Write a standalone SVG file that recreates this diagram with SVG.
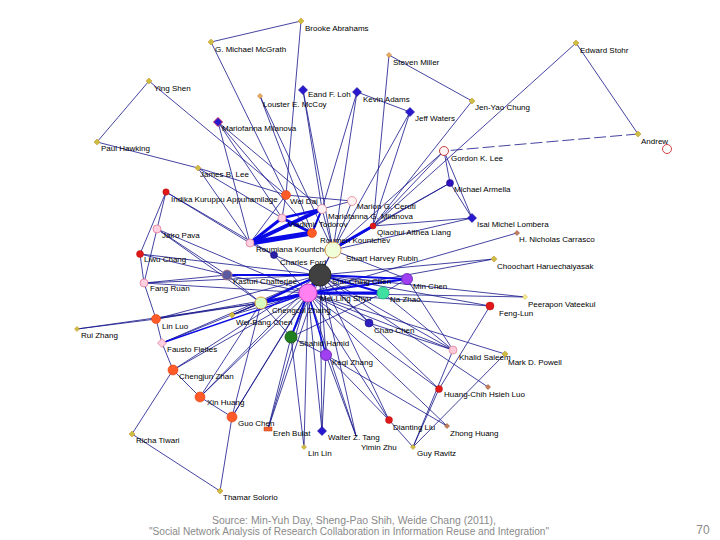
<svg xmlns="http://www.w3.org/2000/svg" xmlns:xlink="http://www.w3.org/1999/xlink" width="720" height="540" viewBox="0 0 720 540">
<style>
.e{stroke:#14148a;stroke-width:.8;fill:none}
.t{stroke:#0a0ae6;fill:none;stroke-linecap:round}
.lb{font-family:"Liberation Sans",Arial,sans-serif;font-size:8px;fill:#000}
.yd{fill:#c8c040;stroke:#d89030;stroke-width:.6}
.od{fill:#e8b060;stroke:#c07020;stroke-width:.6}
.brd{fill:#c08060;stroke:#a05030;stroke-width:.6}
.bd{fill:#2818d0;stroke:#1a0c90;stroke-width:.6}
.rc{fill:#e01818;stroke:#b01010;stroke-width:.5}
.oc{fill:#ff5a28;stroke:#e04010;stroke-width:.6}
.pc{fill:#ffd0e0;stroke:#e07090;stroke-width:.7}
.ft{font-family:"Liberation Sans",Arial,sans-serif;font-size:10px;fill:#8a8a8a}
</style>
<defs>
<path id="dS" d="M0,-2.5L2.5,0L0,2.5L-2.5,0Z"/>
<path id="dM" d="M0,-3L3,0L0,3L-3,0Z"/>
<path id="dL" d="M0,-4.5L4.5,0L0,4.5L-4.5,0Z"/>
</defs>
<rect width="720" height="540" fill="#fff"/>
<g id="edges">
<line class="e" x1="301" y1="21" x2="211" y2="42"/>
<line class="e" x1="301" y1="21" x2="286" y2="195"/>
<line class="e" x1="211" y1="42" x2="286" y2="195"/>
<line class="e" x1="389" y1="55" x2="472" y2="101"/>
<line class="e" x1="389" y1="55" x2="373" y2="226"/>
<line class="e" x1="576" y1="43" x2="638" y2="134"/>
<line class="e" x1="576" y1="43" x2="373" y2="226"/>
<line class="e" x1="472" y1="101" x2="373" y2="226"/>
<line class="e" x1="638" y1="134" x2="444" y2="151" stroke-width="1.3" stroke-dasharray="12,4"/>
<line class="e" x1="444" y1="151" x2="450" y2="183"/>
<line class="e" x1="444" y1="151" x2="472" y2="218"/>
<line class="e" x1="444" y1="151" x2="373" y2="226"/>
<line class="e" x1="444" y1="151" x2="333" y2="250"/>
<line class="e" x1="410" y1="112" x2="357" y2="92"/>
<line class="e" x1="410" y1="112" x2="333" y2="250"/>
<line class="e" x1="410" y1="112" x2="373" y2="226"/>
<line class="e" x1="357" y1="92" x2="333" y2="250"/>
<line class="e" x1="357" y1="92" x2="322" y2="209"/>
<line class="e" x1="303" y1="90" x2="333" y2="250"/>
<line class="e" x1="303" y1="90" x2="322" y2="209"/>
<line class="e" x1="260" y1="96" x2="333" y2="250"/>
<line class="e" x1="260" y1="96" x2="312" y2="233"/>
<line class="e" x1="149" y1="81" x2="97" y2="142"/>
<line class="e" x1="149" y1="81" x2="286" y2="195"/>
<line class="e" x1="97" y1="142" x2="198" y2="168"/>
<line class="e" x1="218" y1="122" x2="282" y2="218"/>
<line class="e" x1="218" y1="122" x2="312" y2="233"/>
<line class="e" x1="218" y1="122" x2="322" y2="209"/>
<line class="e" x1="218" y1="122" x2="250" y2="243"/>
<line class="e" x1="198" y1="168" x2="286" y2="195"/>
<line class="e" x1="198" y1="168" x2="250" y2="243"/>
<line class="e" x1="198" y1="168" x2="282" y2="218"/>
<line class="e" x1="450" y1="183" x2="472" y2="218"/>
<line class="e" x1="450" y1="183" x2="373" y2="226"/>
<line class="e" x1="450" y1="183" x2="333" y2="250"/>
<line class="e" x1="472" y1="218" x2="373" y2="226"/>
<line class="e" x1="472" y1="218" x2="333" y2="250"/>
<line class="e" x1="517" y1="233" x2="308" y2="293"/>
<line class="e" x1="494" y1="259" x2="308" y2="293"/>
<line class="e" x1="494" y1="259" x2="320" y2="275"/>
<line class="e" x1="525" y1="297" x2="320" y2="275"/>
<line class="e" x1="525" y1="297" x2="308" y2="293"/>
<line class="e" x1="490" y1="306" x2="308" y2="293"/>
<line class="e" x1="490" y1="306" x2="320" y2="275"/>
<line class="e" x1="490" y1="306" x2="439" y2="389"/>
<line class="e" x1="505" y1="354" x2="413" y2="447"/>
<line class="e" x1="505" y1="354" x2="308" y2="293"/>
<line class="e" x1="453" y1="350" x2="320" y2="275"/>
<line class="e" x1="453" y1="350" x2="308" y2="293"/>
<line class="e" x1="453" y1="350" x2="407" y2="279"/>
<line class="e" x1="453" y1="350" x2="383" y2="293"/>
<line class="e" x1="453" y1="350" x2="413" y2="447"/>
<line class="e" x1="453" y1="350" x2="369" y2="323"/>
<line class="e" x1="439" y1="389" x2="308" y2="293"/>
<line class="e" x1="439" y1="389" x2="413" y2="447"/>
<line class="e" x1="439" y1="389" x2="320" y2="275"/>
<line class="e" x1="488" y1="387" x2="320" y2="275"/>
<line class="e" x1="447" y1="426" x2="308" y2="293"/>
<line class="e" x1="447" y1="426" x2="326" y2="355"/>
<line class="e" x1="389" y1="420" x2="308" y2="293"/>
<line class="e" x1="389" y1="420" x2="320" y2="275"/>
<line class="e" x1="389" y1="420" x2="326" y2="355"/>
<line class="e" x1="389" y1="420" x2="413" y2="447"/>
<line class="e" x1="322" y1="431" x2="320" y2="275"/>
<line class="e" x1="322" y1="431" x2="308" y2="293"/>
<line class="e" x1="322" y1="431" x2="326" y2="355"/>
<line class="e" x1="356" y1="436" x2="320" y2="275"/>
<line class="e" x1="356" y1="436" x2="308" y2="293"/>
<line class="e" x1="356" y1="436" x2="326" y2="355"/>
<line class="e" x1="304" y1="447" x2="291" y2="337"/>
<line class="e" x1="304" y1="447" x2="308" y2="293"/>
<line class="e" x1="268" y1="429" x2="320" y2="275"/>
<line class="e" x1="268" y1="429" x2="308" y2="293"/>
<line class="e" x1="268" y1="429" x2="291" y2="337"/>
<line class="e" x1="232" y1="417" x2="320" y2="275"/>
<line class="e" x1="232" y1="417" x2="308" y2="293"/>
<line class="e" x1="232" y1="417" x2="261" y2="303"/>
<line class="e" x1="232" y1="417" x2="200" y2="397"/>
<line class="e" x1="232" y1="417" x2="220" y2="491"/>
<line class="e" x1="200" y1="397" x2="173" y2="370"/>
<line class="e" x1="200" y1="397" x2="320" y2="275"/>
<line class="e" x1="200" y1="397" x2="308" y2="293"/>
<line class="e" x1="200" y1="397" x2="261" y2="303"/>
<line class="e" x1="173" y1="370" x2="162" y2="343"/>
<line class="e" x1="173" y1="370" x2="132" y2="434"/>
<line class="e" x1="173" y1="370" x2="308" y2="293"/>
<line class="e" x1="173" y1="370" x2="320" y2="275"/>
<line class="e" x1="132" y1="434" x2="220" y2="491"/>
<line class="e" x1="162" y1="343" x2="156" y2="319"/>
<line class="e" x1="162" y1="343" x2="320" y2="275"/>
<line class="e" x1="162" y1="343" x2="261" y2="303"/>
<line class="e" x1="156" y1="319" x2="77" y2="329"/>
<line class="e" x1="156" y1="319" x2="308" y2="293"/>
<line class="e" x1="156" y1="319" x2="320" y2="275"/>
<line class="e" x1="156" y1="319" x2="261" y2="303"/>
<line class="e" x1="156" y1="319" x2="144" y2="283"/>
<line class="e" x1="77" y1="329" x2="261" y2="303"/>
<line class="e" x1="232" y1="315" x2="261" y2="303"/>
<line class="e" x1="232" y1="315" x2="320" y2="275"/>
<line class="e" x1="232" y1="315" x2="308" y2="293"/>
<line class="e" x1="144" y1="283" x2="140" y2="254"/>
<line class="e" x1="144" y1="283" x2="157" y2="229"/>
<line class="e" x1="144" y1="283" x2="320" y2="275"/>
<line class="e" x1="144" y1="283" x2="308" y2="293"/>
<line class="e" x1="144" y1="283" x2="227" y2="275" stroke-width="1.4"/>
<line class="e" x1="140" y1="254" x2="166" y2="192"/>
<line class="e" x1="140" y1="254" x2="227" y2="275"/>
<line class="e" x1="140" y1="254" x2="320" y2="275"/>
<line class="e" x1="157" y1="229" x2="166" y2="192"/>
<line class="e" x1="157" y1="229" x2="227" y2="275"/>
<line class="e" x1="157" y1="229" x2="261" y2="303"/>
<line class="e" x1="157" y1="229" x2="308" y2="293"/>
<line class="e" x1="166" y1="192" x2="250" y2="243"/>
<line class="e" x1="166" y1="192" x2="274" y2="255"/>
<line class="e" x1="227" y1="275" x2="308" y2="293"/>
<line class="e" x1="227" y1="275" x2="261" y2="303"/>
<line class="e" x1="274" y1="255" x2="320" y2="275"/>
<line class="e" x1="274" y1="255" x2="250" y2="243"/>
<line class="e" x1="274" y1="255" x2="308" y2="293"/>
<line class="e" x1="261" y1="303" x2="291" y2="337"/>
<line class="e" x1="291" y1="337" x2="320" y2="275"/>
<line class="e" x1="291" y1="337" x2="326" y2="355"/>
<line class="e" x1="291" y1="337" x2="383" y2="293"/>
<line class="e" x1="326" y1="355" x2="320" y2="275"/>
<line class="e" x1="369" y1="323" x2="320" y2="275"/>
<line class="e" x1="369" y1="323" x2="308" y2="293"/>
<line class="e" x1="407" y1="279" x2="333" y2="250"/>
<line class="e" x1="383" y1="293" x2="407" y2="279"/>
<line class="e" x1="333" y1="250" x2="320" y2="275"/>
<line class="e" x1="333" y1="250" x2="308" y2="293"/>
<line class="e" x1="333" y1="250" x2="322" y2="209"/>
<line class="e" x1="333" y1="250" x2="352" y2="201"/>
<line class="e" x1="286" y1="195" x2="352" y2="201"/>
<line class="e" x1="286" y1="195" x2="282" y2="218"/>
<line class="e" x1="286" y1="195" x2="250" y2="243"/>
<line class="e" x1="352" y1="201" x2="322" y2="209"/>
<line class="t" x1="250" y1="243" x2="282" y2="218" stroke-width="3"/>
<line class="t" x1="250" y1="243" x2="322" y2="209" stroke-width="4"/>
<line class="t" x1="250" y1="243" x2="312" y2="233" stroke-width="5"/>
<line class="t" x1="282" y1="218" x2="322" y2="209" stroke-width="2.5"/>
<line class="t" x1="282" y1="218" x2="312" y2="233" stroke-width="3"/>
<line class="t" x1="312" y1="233" x2="322" y2="209" stroke-width="2"/>
<line class="t" x1="340" y1="245" x2="373" y2="226" stroke-width="3"/>
<line class="t" x1="320" y1="275" x2="308" y2="293" stroke-width="4"/>
<line class="t" x1="308" y1="293" x2="261" y2="303" stroke-width="3"/>
<line class="t" x1="320" y1="275" x2="261" y2="303" stroke-width="2"/>
<line class="t" x1="308" y1="293" x2="383" y2="293" stroke-width="3"/>
<line class="t" x1="320" y1="275" x2="383" y2="293" stroke-width="2"/>
<line class="t" x1="308" y1="293" x2="407" y2="279" stroke-width="2"/>
<line class="t" x1="320" y1="275" x2="407" y2="279" stroke-width="2"/>
<line class="t" x1="320" y1="275" x2="227" y2="275" stroke-width="2"/>
<line class="t" x1="308" y1="293" x2="291" y2="337" stroke-width="2"/>
<line class="t" x1="308" y1="293" x2="326" y2="355" stroke-width="1.5"/>
<line class="t" x1="308" y1="293" x2="162" y2="343" stroke-width="1.4"/>
</g>
<g id="n-brooke"><use href="#dM" x="301" y="21" class="yd"/><text class="lb" x="305" y="31">Brooke Abrahams</text></g>
<g id="n-mcgrath"><use href="#dM" x="211" y="42" class="yd"/><text class="lb" x="215" y="52">G. Michael McGrath</text></g>
<g id="n-steven"><use href="#dS" x="389" y="55" class="od"/><text class="lb" x="393" y="65">Steven Miller</text></g>
<g id="n-edward"><use href="#dM" x="576" y="43" class="yd"/><text class="lb" x="580" y="53">Edward Stohr</text></g>
<g id="n-ying"><use href="#dM" x="149" y="81" class="yd"/><text class="lb" x="154" y="91">Ying Shen</text></g>
<g id="n-eand"><use href="#dL" x="303" y="90" class="bd"/><text class="lb" x="308" y="97">Eand F. Loh</text></g>
<g id="n-kevin"><use href="#dL" x="357" y="92" class="bd"/><text class="lb" x="363" y="102">Kevin Adams</text></g>
<g id="n-louster"><use href="#dS" x="260" y="96" class="od"/><text class="lb" x="263" y="107">Louster E. McCoy</text></g>
<g id="n-jenyao"><use href="#dM" x="472" y="101" class="yd"/><text class="lb" x="475" y="110">Jen-Yao Chung</text></g>
<g id="n-jeff"><use href="#dL" x="410" y="112" class="bd"/><text class="lb" x="415" y="121">Jeff Waters</text></g>
<g id="n-mmil"><use href="#dL" x="218" y="122" class="bd" style="stroke:#c02060;stroke-width:1"/><text class="lb" x="222" y="131">Mariofanna Milanova</text></g>
<g id="n-andrew"><use href="#dM" x="638" y="134" class="yd"/><circle cx="667" cy="149" r="4.5" fill="#fff" stroke="#d04040" stroke-width="1"/><text class="lb" x="641" y="144">Andrew</text></g>
<g id="n-gordon"><circle cx="444" cy="151" r="4.5" fill="#fff4f4" stroke="#c04040" stroke-width="1"/><text class="lb" x="451" y="161">Gordon K. Lee</text></g>
<g id="n-paul"><use href="#dM" x="97" y="142" class="yd"/><text class="lb" x="101" y="151">Paul Hawking</text></g>
<g id="n-james"><use href="#dM" x="198" y="168" class="yd"/><text class="lb" x="200" y="177">James B. Lee</text></g>
<g id="n-armella"><circle cx="450" cy="183" r="3.5" fill="#3010c0" stroke="#1a0a80" stroke-width=".6"/><text class="lb" x="454" y="192">Michael Armella</text></g>
<g id="n-indika"><circle cx="166" cy="192" r="3.2" class="rc"/><text class="lb" x="171" y="202">Indika Kuruppu Appuhamilage</text></g>
<g id="n-weidai"><circle cx="286" cy="195" r="4.5" class="oc"/><text class="lb" x="290" y="204">Wei Dai</text></g>
<g id="n-marion"><circle cx="352" cy="201" r="4.5" fill="#fff2f4" stroke="#e08090" stroke-width=".8"/><text class="lb" x="357" y="209">Marion G. Ceruti</text></g>
<g id="n-mgmil"><circle cx="322" cy="209" r="4.5" fill="#fff2f4" stroke="#e08090" stroke-width=".8"/><text class="lb" x="328" y="219">Mariofanna G. Milanova</text></g>
<g id="n-vlad"><circle cx="282" cy="218" r="4" class="pc"/><text class="lb" x="288" y="227">Vladimir Todorov</text></g>
<g id="n-isai"><use href="#dL" x="472" y="218" class="bd"/><text class="lb" x="477" y="227">Isai Michel Lombera</text></g>
<g id="n-qiao"><circle cx="373" cy="226" r="3" class="rc"/><text class="lb" x="377" y="235">Qiaohui Althea Liang</text></g>
<g id="n-roumen"><circle cx="312" cy="233" r="4.5" class="oc"/><text class="lb" x="320" y="243">Roumen Kountchev</text></g>
<g id="n-nich"><use href="#dS" x="517" y="233" class="brd"/><text class="lb" x="519" y="242">H. Nicholas Carrasco</text></g>
<g id="n-roumiana"><circle cx="250" cy="243" r="4" class="pc"/><text class="lb" x="256" y="252">Roumiana Kountcheva</text></g>
<g id="n-stuart"><circle cx="333" cy="250" r="8" fill="#f0ffd8" stroke="#d0a060" stroke-width="1"/><text class="lb" x="346" y="261">Stuart Harvey Rubin</text></g>
<g id="n-jairo"><circle cx="157" cy="229" r="4" class="pc"/><text class="lb" x="162" y="238">Jairo Pava</text></g>
<g id="n-liwu"><circle cx="140" cy="254" r="3.5" class="rc"/><text class="lb" x="144" y="262">Liwu Chang</text></g>
<g id="n-charles"><circle cx="274" cy="255" r="3.5" fill="#2a20a8" stroke="#141070" stroke-width=".6"/><text class="lb" x="280" y="265">Charles Ford</text></g>
<g id="n-choo"><use href="#dM" x="494" y="259" class="yd"/><text class="lb" x="497" y="269">Choochart Haruechaiyasak</text></g>
<g id="n-shu"><circle cx="320" cy="275" r="11" fill="#404040" stroke="#2a2a2a" stroke-width="1"/><text class="lb" x="332" y="284">Shu-Ching Chen</text></g>
<g id="n-kast"><circle cx="227" cy="275" r="5" fill="#5a5aa0" stroke="#c08080" stroke-width=".8"/><text class="lb" x="233" y="284">Kasturi Chatterjee</text></g>
<g id="n-minc"><circle cx="407" cy="279" r="5.5" fill="#a040f0" stroke="#6020b0" stroke-width=".8"/><text class="lb" x="413" y="289">Min Chen</text></g>
<g id="n-fang"><circle cx="144" cy="283" r="4" class="pc"/><text class="lb" x="150" y="291">Fang Ruan</text></g>
<g id="n-mei"><circle cx="308" cy="293" r="9" fill="#ff80f0" stroke="#d040c0" stroke-width="1"/><text class="lb" x="320" y="301">Mei-Ling Shyu</text></g>
<g id="n-na"><circle cx="383" cy="293" r="6" fill="#40e0a0" stroke="#20b080" stroke-width=".8"/><text class="lb" x="390" y="302">Na Zhao</text></g>
<g id="n-peer"><use href="#dS" x="525" y="297" fill="#f0f090" stroke="#e0b040" stroke-width=".6"/><text class="lb" x="528" y="307">Peerapon Vateekul</text></g>
<g id="n-cheng"><circle cx="261" cy="303" r="6" fill="#d8ffc0" stroke="#e0a040" stroke-width="1"/><text class="lb" x="272" y="313">Chengcui Zhang</text></g>
<g id="n-feng"><circle cx="490" cy="306" r="4" class="rc"/><text class="lb" x="499" y="316">Feng-Lun</text></g>
<g id="n-weib"><use href="#dM" x="232" y="315" class="yd"/><text class="lb" x="236" y="325">Wei-Bang Chen</text></g>
<g id="n-linluo"><circle cx="156" cy="319" r="4.5" class="oc"/><text class="lb" x="162" y="329">Lin Luo</text></g>
<g id="n-chao"><circle cx="369" cy="323" r="4" fill="#3020c0" stroke="#181080" stroke-width=".6"/><text class="lb" x="374" y="333">Chao Chen</text></g>
<g id="n-rui"><use href="#dS" x="77" y="329" class="yd"/><text class="lb" x="81" y="338">Rui Zhang</text></g>
<g id="n-shahid"><circle cx="291" cy="337" r="6" fill="#208020" stroke="#105010" stroke-width=".8"/><text class="lb" x="299" y="346">Shahid Hamid</text></g>
<g id="n-fausto"><use href="#dL" x="162" y="343" class="pc"/><text class="lb" x="167" y="352">Fausto Fleites</text></g>
<g id="n-khalid"><circle cx="453" cy="350" r="4" fill="#ffc8d8" stroke="#e08090" stroke-width=".7"/><text class="lb" x="459" y="360">Khalid Saleem</text></g>
<g id="n-keqi"><circle cx="326" cy="355" r="5.5" fill="#a040f0" stroke="#6020b0" stroke-width=".8"/><text class="lb" x="332" y="365">Keqi Zhang</text></g>
<g id="n-mark"><use href="#dM" x="505" y="354" class="yd"/><text class="lb" x="508" y="365">Mark D. Powell</text></g>
<g id="n-chengjun"><circle cx="173" cy="370" r="5" class="oc"/><text class="lb" x="179" y="379">Chengjun Zhan</text></g>
<g id="n-huang"><circle cx="439" cy="389" r="3.5" class="rc"/><text class="lb" x="444" y="397">Huang-Chih Hsieh Luo</text></g>
<g id="n-brown"><use href="#dS" x="488" y="387" class="brd"/></g>
<g id="n-xin"><circle cx="200" cy="397" r="5" class="oc"/><text class="lb" x="207" y="405">Xin Huang</text></g>
<g id="n-guo"><circle cx="232" cy="417" r="5" class="oc"/><text class="lb" x="238" y="426">Guo Chen</text></g>
<g id="n-dian"><circle cx="389" cy="420" r="3.5" class="rc"/><text class="lb" x="393" y="430">Dianting Liu</text></g>
<g id="n-zhong"><use href="#dS" x="447" y="426" class="brd"/><text class="lb" x="450" y="436">Zhong Huang</text></g>
<g id="n-ereh"><rect x="264" y="427" width="8" height="4" fill="#f06030" stroke="#c04010" stroke-width=".5"/><text class="lb" x="273" y="436">Ereh Bulat</text></g>
<g id="n-walter"><use href="#dL" x="322" y="431" class="bd"/><text class="lb" x="328" y="440">Walter Z. Tang</text></g>
<g id="n-yimin"><text class="lb" x="361" y="450">Yimin Zhu</text></g>
<g id="n-richa"><use href="#dM" x="132" y="434" class="yd"/><text class="lb" x="136" y="443">Richa Tiwari</text></g>
<g id="n-linlin"><use href="#dS" x="304" y="447" class="yd"/><text class="lb" x="308" y="456">Lin Lin</text></g>
<g id="n-guy"><use href="#dS" x="413" y="447" class="yd"/><text class="lb" x="417" y="456">Guy Ravitz</text></g>
<g id="n-thamar"><use href="#dM" x="220" y="491" class="yd"/><text class="lb" x="223" y="500">Thamar Solorio</text></g>
<g id="footer">
<text class="ft" x="354" y="524" text-anchor="middle" textLength="284" lengthAdjust="spacingAndGlyphs">Source: Min-Yuh Day, Sheng-Pao Shih, Weide Chang (2011),</text>
<text class="ft" x="349" y="535" text-anchor="middle" textLength="400" lengthAdjust="spacingAndGlyphs">"Social Network Analysis of Research Collaboration in Information Reuse and Integration"</text>
<text x="703" y="534" text-anchor="middle" font-family="Liberation Sans, Arial, sans-serif" font-size="12" fill="#8a8a8a">70</text>
</g>
</svg>
